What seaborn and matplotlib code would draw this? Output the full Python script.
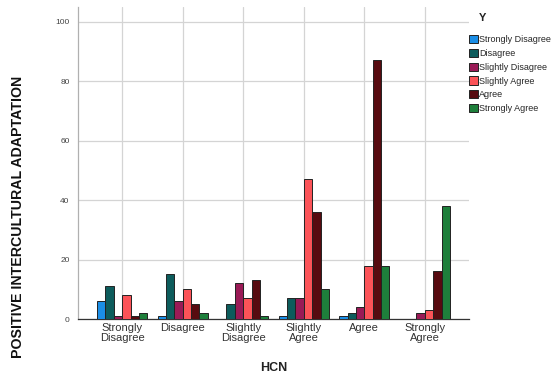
import matplotlib
matplotlib.use("Agg")
import matplotlib.pyplot as plt
import seaborn as sns
import pandas as pd

# Response categories (x groups and hue levels share the same scale)
hcn_levels = ["Strongly\nDisagree", "Disagree", "Slightly\nDisagree",
              "Slightly\nAgree", "Agree", "Strongly\nAgree"]
y_levels = ["Strongly Disagree", "Disagree", "Slightly Disagree",
            "Slightly Agree", "Agree", "Strongly Agree"]

# Counts per HCN group, one list per Y level (order follows hcn_levels)
strongly_disagree = [6, 1, 0, 1, 1, 0]
disagree = [11, 15, 5, 7, 2, 0]
slightly_disagree = [1, 6, 12, 7, 4, 2]
slightly_agree = [8, 10, 7, 47, 18, 3]
agree = [1, 5, 13, 36, 87, 16]
strongly_agree = [2, 2, 1, 10, 18, 38]

series = [strongly_disagree, disagree, slightly_disagree,
          slightly_agree, agree, strongly_agree]

colors = ["#1b8ee6", "#0d5c5c", "#9a1a56", "#fb5358", "#570b10", "#1e7f3b"]

rows = []
for level, values in zip(y_levels, series):
    for grp, v in zip(hcn_levels, values):
        if v > 0:
            rows.append({"HCN": grp, "Y": level, "count": v})
df = pd.DataFrame(rows)

sns.set_style("white")
plt.rcParams["font.family"] = ["Liberation Sans", "DejaVu Sans"]

fig = plt.figure(figsize=(5.52, 3.8), dpi=100)
ax = fig.add_axes([78 / 552, 1 - 319 / 380, (469 - 78) / 552, (319 - 7) / 380])

sns.barplot(data=df, x="HCN", y="count", hue="Y", order=hcn_levels,
            hue_order=y_levels, palette=colors, saturation=1, width=0.83,
            dodge=True, edgecolor="#222222", linewidth=0.7, ax=ax, zorder=3,
            legend=True)

ax.set_xlim(-0.73, 5.73)
ax.set_ylim(0, 105)
ax.set_yticks([0, 20, 40, 60, 80, 100])
ax.grid(True, color="#d4d4d4", linewidth=0.9, zorder=0)
ax.set_axisbelow(True)

for side in ["top", "right"]:
    ax.spines[side].set_visible(False)
ax.spines["left"].set_color("#b0b0b0")
ax.spines["left"].set_linewidth(0.9)
ax.spines["bottom"].set_color("#333333")
ax.spines["bottom"].set_linewidth(0.9)

ax.tick_params(axis="y", labelsize=6, colors="#444444", length=0, pad=6)
ax.tick_params(axis="x", labelsize=8, colors="#333333", length=0, pad=3)
for lbl in ax.get_xticklabels():
    lbl.set_linespacing(0.95)

ax.set_xlabel("HCN", fontsize=9, fontweight="bold", color="#222222", labelpad=14)
ax.set_ylabel("")
fig.text(18 / 552, 1 - 217 / 380, "POSITIVE INTERCULTURAL ADAPTATION",
         rotation=90, ha="center", va="center", fontsize=10.2,
         fontweight="bold", color="#111111")

# Legend title placed on its own, entries below it
fig.text(483 / 552, 1 - 18 / 380, "Y", ha="center", va="center",
         fontsize=8, fontweight="bold", color="#222222")
handles, labels = ax.get_legend_handles_labels()
ax.legend(handles, labels, loc="upper left",
          bbox_to_anchor=(469 / 552, 1 - 35 / 380),
          bbox_transform=fig.transFigure, frameon=False, fontsize=6.5,
          handlelength=1.0, handleheight=1.05, handletextpad=0.15,
          labelspacing=0.5, borderaxespad=0.0, borderpad=0.0)

fig.savefig("out.png", dpi=100)
